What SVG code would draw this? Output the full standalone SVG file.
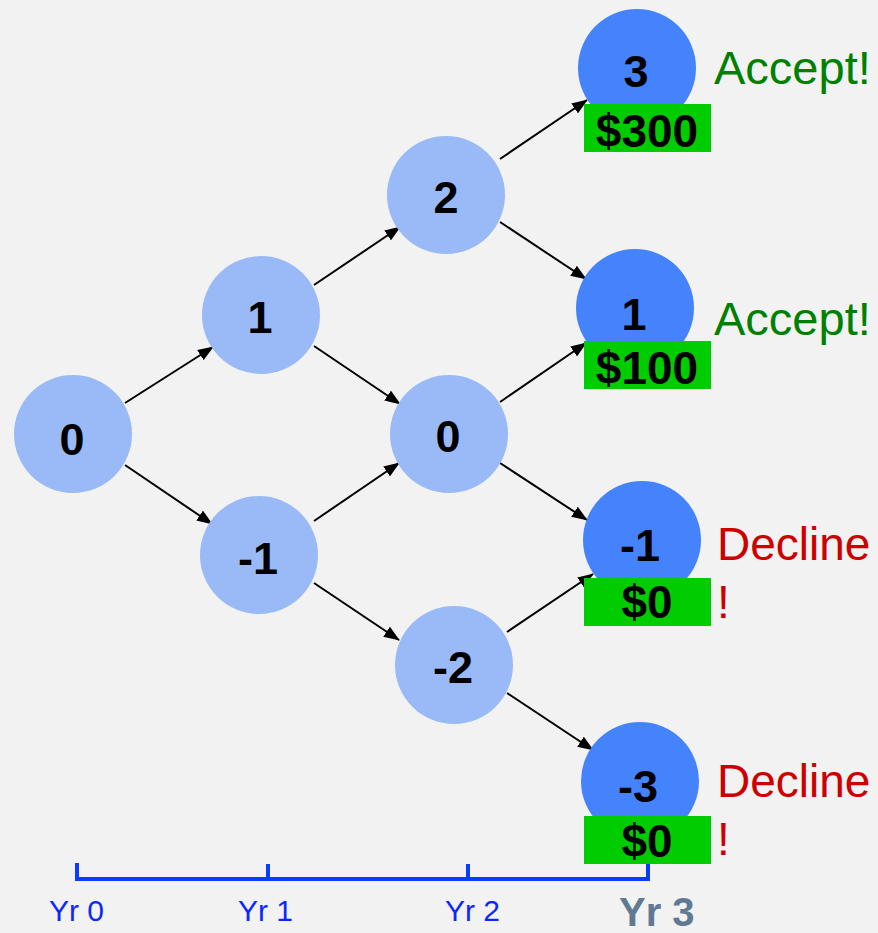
<svg xmlns="http://www.w3.org/2000/svg" width="878" height="933" viewBox="0 0 878 933">
  <defs>
    <marker id="arrow" markerUnits="userSpaceOnUse" markerWidth="16" markerHeight="12" refX="15" refY="6" orient="auto">
      <path d="M0,0 L16,6 L0,12 Z" fill="#000"/>
    </marker>
    <style>
      .light { fill: #99baf7; }
      .dark { fill: #4583fc; }
      .lbl { font-family: "Liberation Sans", Arial, sans-serif; font-weight: bold; font-size: 45px; fill: #000; text-anchor: middle; }
      .pay { fill: #00cc00; }
      .amt { font-family: "Liberation Sans", Arial, sans-serif; font-weight: bold; font-size: 46px; fill: #000; text-anchor: middle; }
      .acc { font-family: "Liberation Sans", Arial, sans-serif; font-size: 47px; fill: #008000; }
      .dec { font-family: "Liberation Sans", Arial, sans-serif; font-size: 46px; fill: #cc0000; }
      .edge { stroke: #000; stroke-width: 2; fill: none; marker-end: url(#arrow); }
      .axis { stroke: #0a3cff; stroke-width: 4; fill: none; }
      .yr { font-family: "Liberation Sans", Arial, sans-serif; font-size: 30px; fill: #0a28ff; }
      .yr3 { font-family: "Liberation Sans", Arial, sans-serif; font-weight: bold; font-size: 40px; fill: #5f7a92; }
    </style>
  </defs>
  <rect x="0" y="0" width="878" height="933" fill="#f2f2f2"/>

  <!-- connectors -->
  <g id="connectors">
    <line class="edge" x1="125" y1="403" x2="213" y2="347"/>
    <line class="edge" x1="125" y1="465" x2="212" y2="524"/>
    <line class="edge" x1="314" y1="285" x2="400" y2="227"/>
    <line class="edge" x1="314" y1="346" x2="400" y2="404"/>
    <line class="edge" x1="314" y1="521" x2="399" y2="463"/>
    <line class="edge" x1="314" y1="583" x2="399" y2="640"/>
    <line class="edge" x1="500" y1="159" x2="587" y2="100"/>
    <line class="edge" x1="500" y1="222" x2="586" y2="279"/>
    <line class="edge" x1="500" y1="402" x2="586" y2="343"/>
    <line class="edge" x1="500" y1="463" x2="587" y2="520"/>
    <line class="edge" x1="507" y1="632" x2="593" y2="574"/>
    <line class="edge" x1="507" y1="693" x2="593" y2="750"/>
  </g>

  <!-- year 0 -->
  <g id="n-y0-0">
    <circle class="light" cx="73" cy="434" r="59"/>
    <text class="lbl" x="72" y="455">0</text>
  </g>
  <!-- year 1 -->
  <g id="n-y1-1">
    <circle class="light" cx="261" cy="315" r="59"/>
    <text class="lbl" x="260" y="333">1</text>
  </g>
  <g id="n-y1-m1">
    <circle class="light" cx="259" cy="555" r="59"/>
    <text class="lbl" x="258" y="574">-1</text>
  </g>
  <!-- year 2 -->
  <g id="n-y2-2">
    <circle class="light" cx="446" cy="195" r="59"/>
    <text class="lbl" x="446" y="213">2</text>
  </g>
  <g id="n-y2-0">
    <circle class="light" cx="449" cy="434" r="59"/>
    <text class="lbl" x="448" y="452">0</text>
  </g>
  <g id="n-y2-m2">
    <circle class="light" cx="454" cy="665" r="59"/>
    <text class="lbl" x="453" y="683">-2</text>
  </g>

  <!-- year 3 with payoffs -->
  <g id="n-y3-3">
    <circle class="dark" cx="637" cy="68" r="59"/>
    <text class="lbl" x="636" y="87">3</text>
    <rect class="pay" x="584" y="104" width="127" height="48"/>
    <text class="amt" x="647" y="147">$300</text>
    <text class="acc" x="714" y="84">Accept!</text>
  </g>
  <g id="n-y3-1">
    <circle class="dark" cx="635" cy="308" r="59"/>
    <text class="lbl" x="634" y="330">1</text>
    <rect class="pay" x="584" y="341" width="127" height="48"/>
    <text class="amt" x="647" y="384">$100</text>
    <text class="acc" x="714" y="335">Accept!</text>
  </g>
  <g id="n-y3-m1">
    <circle class="dark" cx="642" cy="540" r="59"/>
    <text class="lbl" x="640" y="561">-1</text>
    <rect class="pay" x="584" y="578" width="127" height="48"/>
    <text class="amt" x="647" y="618">$0</text>
    <text class="dec" x="717" y="560">Decline</text>
    <text class="dec" x="717" y="618">!</text>
  </g>
  <g id="n-y3-m3">
    <circle class="dark" cx="640" cy="781" r="59"/>
    <text class="lbl" x="638" y="802">-3</text>
    <rect class="pay" x="584" y="816" width="127" height="48"/>
    <text class="amt" x="647" y="857">$0</text>
    <text class="dec" x="717" y="797">Decline</text>
    <text class="dec" x="717" y="855">!</text>
  </g>

  <!-- time axis -->
  <g id="axis">
    <path class="axis" d="M77,863 V879 H648 V864 M268,864 V879 M468,864 V879"/>
    <text class="yr" x="49" y="921">Yr 0</text>
    <text class="yr" x="238" y="921">Yr 1</text>
    <text class="yr" x="445" y="921">Yr 2</text>
    <text class="yr3" x="619" y="926">Yr 3</text>
  </g>
</svg>
